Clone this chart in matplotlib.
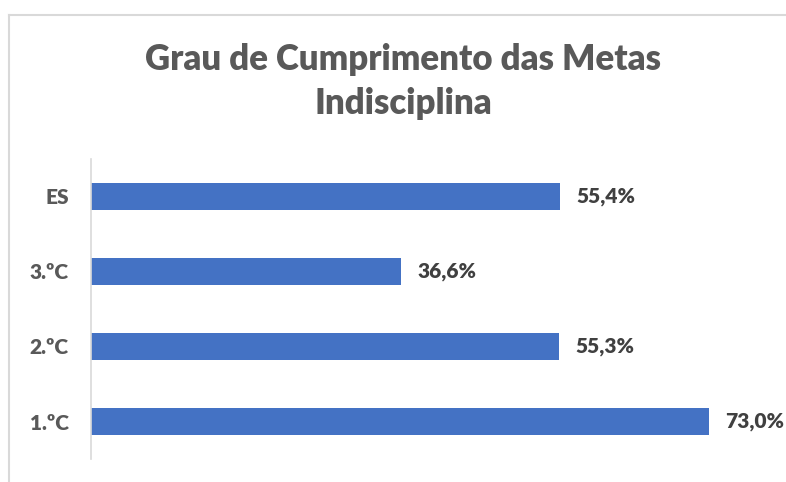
import matplotlib.pyplot as plt
from matplotlib.lines import Line2D

# data
categories = ['1.ºC', '2.ºC', '3.ºC', 'ES']
values = [73.0, 55.3, 36.6, 55.4]

plt.rcParams['font.family'] = ['Lato', 'DejaVu Sans']

W, H = 786, 482
fig = plt.figure(figsize=(W / 100, H / 100), dpi=100)

# axes placed to match the plot area of the reference
ax = fig.add_axes([91 / W, 1 - 459 / H, (768 - 91) / W, 300 / H])
ax.barh(range(len(categories)), values, height=0.36, color='#4472c4')
ax.set_xlim(0, 80)
ax.set_ylim(-0.5, len(categories) - 0.5)
ax.set_yticks(range(len(categories)))
ax.set_yticklabels(categories, fontsize=15, fontweight='heavy', color='#595959')
ax.tick_params(axis='y', length=0, pad=16)
ax.set_xticks([])
for s in ['top', 'right', 'bottom']:
    ax.spines[s].set_visible(False)
ax.spines['left'].set_color('#d9d9d9')
ax.spines['left'].set_linewidth(1.2)

for i, v in enumerate(values):
    ax.annotate(f'{v:.1f}%'.replace('.', ','), (v, i), xytext=(12, 0),
                textcoords='offset points', va='center', ha='left',
                fontsize=15, fontweight='heavy', color='#404040')

fig.text(403 / W, 1 - 60 / H, 'Grau de Cumprimento das Metas', ha='center', va='center',
         fontsize=25, fontweight='heavy', color='#595959')
fig.text(403 / W, 1 - 104 / H, 'Indisciplina', ha='center', va='center',
         fontsize=25, fontweight='heavy', color='#595959')

# chart border (partially visible)
fig.add_artist(Line2D([9 / W, 1], [1 - 15 / H, 1 - 15 / H], color='#d9d9d9', lw=1.5))
fig.add_artist(Line2D([9 / W, 9 / W], [0, 1 - 15 / H], color='#d9d9d9', lw=1.5))

fig.savefig('out.png', dpi=100)
